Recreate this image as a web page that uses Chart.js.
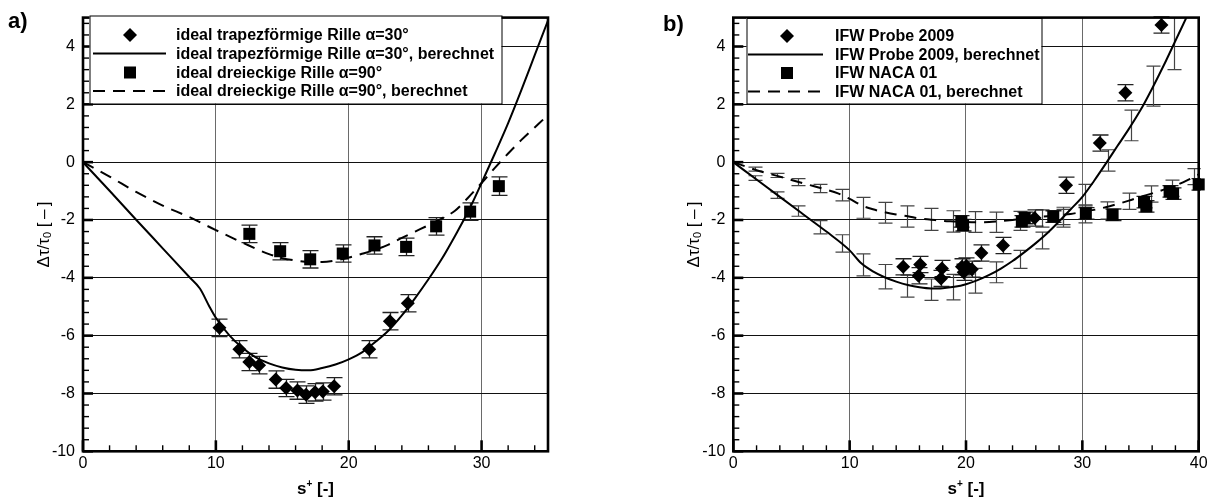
<!DOCTYPE html>
<html><head><meta charset="utf-8">
<script src="https://cdn.jsdelivr.net/npm/chart.js@4.4.1/dist/chart.umd.min.js"></script>
<style>
html,body{margin:0;padding:0;background:#fff;}
#wrap{position:relative;width:1217px;height:497px;overflow:hidden;background:#fff;}
canvas{position:absolute;top:0;}
</style></head>
<body><div id="wrap">
<canvas id="ca" width="608" height="497" style="left:0"></canvas>
<canvas id="cb" width="609" height="497" style="left:608px"></canvas>
</div>
<script>
// ---------- Panel a) data ----------
const aTrapX = [10.27, 11.77, 12.52, 13.25, 14.51, 15.29, 16.14, 16.79, 17.47, 18.05, 18.9, 21.54, 23.1, 24.45];
const aTrapY = [-5.73, -6.47, -6.91, -7.02, -7.52, -7.81, -7.9, -8.04, -7.96, -7.93, -7.75, -6.47, -5.5, -4.88];
const aTrapErr = [0.3, 0.3, 0.3, 0.3, 0.3, 0.3, 0.3, 0.3, 0.3, 0.3, 0.3, 0.3, 0.3, 0.3];
const aTriX = [12.52, 14.84, 17.1, 19.55, 21.94, 24.32, 26.58, 29.14, 31.3];
const aTriY = [-2.48, -3.08, -3.36, -3.16, -2.88, -2.93, -2.22, -1.71, -0.83];
const aTriErr = [0.3, 0.3, 0.3, 0.3, 0.3, 0.3, 0.3, 0.3, 0.32];
const aTrapCalcX = [0, 2, 4, 6, 8, 8.8, 9.5, 10, 11, 12, 13, 14, 15, 16, 17, 18, 19, 20, 21, 22, 23, 24, 25, 26, 27, 28, 29, 30, 31, 32, 33, 34, 35];
const aTrapCalcY = [0, -0.99, -1.99, -2.98, -3.97, -4.37, -4.98, -5.38, -5.98, -6.42, -6.75, -6.96, -7.1, -7.18, -7.2, -7.12, -7.0, -6.82, -6.58, -6.22, -5.82, -5.3, -4.7, -4.05, -3.35, -2.55, -1.7, -0.72, 0.3, 1.35, 2.5, 3.7, 4.9];
const aTriCalcX = [0, 2, 4, 6, 8, 10, 12, 14, 15, 16, 17, 18, 19, 20, 21, 22, 23, 24, 25, 26, 27, 28, 29, 30, 31, 32, 33, 34, 35];
const aTriCalcY = [0, -0.5, -1.03, -1.5, -1.9, -2.35, -2.78, -3.18, -3.32, -3.4, -3.45, -3.45, -3.4, -3.3, -3.17, -3.03, -2.85, -2.62, -2.4, -2.18, -1.95, -1.68, -1.22, -0.72, -0.2, 0.3, 0.77, 1.2, 1.63];
const aXTicks = [0, 10, 20, 30];
const aLegend = ['ideal trapezförmige Rille α=30°', 'ideal trapezförmige Rille α=30°, berechnet', 'ideal dreieckige Rille α=90°', 'ideal dreieckige Rille α=90°, berechnet'];

// ---------- Panel b) data ----------
const bProbeX = [14.6, 15.92, 16.06, 17.85, 17.93, 19.65, 19.8, 20.03, 20.5, 21.32, 23.18, 25.9, 28.6, 31.5, 33.7, 36.8];
const bProbeY = [-3.62, -3.93, -3.54, -4.02, -3.68, -3.62, -3.81, -3.59, -3.7, -3.14, -2.88, -1.93, -0.8, 0.66, 2.4, 4.74];
const bProbeErr = [0.28, 0.28, 0.28, 0.28, 0.28, 0.28, 0.28, 0.28, 0.28, 0.28, 0.28, 0.28, 0.28, 0.28, 0.28, 0.28];
const bNacaX = [19.6, 19.75, 24.8, 25.05, 27.5, 30.3, 32.6, 35.3, 35.5, 37.5, 37.8, 40.0];
const bNacaY = [-2.05, -2.18, -2.05, -1.93, -1.88, -1.77, -1.82, -1.38, -1.53, -1.01, -1.09, -0.77];
const bNacaErr = [0.2, 0.2, 0.2, 0.2, 0.2, 0.2, 0.2, 0.2, 0.2, 0.2, 0.2, 0.2];
const bProbeCalcX = [0, 2, 4, 6, 8, 10, 11, 12, 13, 14, 15, 16, 17, 18, 19, 20, 21, 22, 23, 24, 25, 26, 27, 28, 29, 30, 31, 32, 33, 34, 35, 36, 37, 38, 39];
const bProbeCalcY = [0, -0.6, -1.2, -1.8, -2.4, -3.05, -3.5, -3.78, -3.98, -4.13, -4.25, -4.33, -4.37, -4.36, -4.31, -4.22, -4.08, -3.9, -3.68, -3.42, -3.12, -2.8, -2.45, -2.05, -1.63, -1.2, -0.65, -0.06, 0.55, 1.15, 1.8, 2.55, 3.35, 4.2, 5.05];
const bProbeBarX = [1.87, 3.73, 5.6, 7.46, 9.33, 11.19, 13.05, 14.97, 16.99, 18.85, 20.8, 22.6, 24.6, 26.5, 28.3, 30.26, 32.2, 34.2, 36.1, 37.9];
const bProbeBarY = [-0.55, -1.14, -1.69, -2.25, -2.81, -3.55, -3.96, -4.29, -4.41, -4.32, -4.1, -3.81, -3.36, -2.71, -1.94, -1.14, 0.06, 1.27, 2.63, 4.1];
const bProbeBarErr = [0.08, 0.11, 0.18, 0.23, 0.3, 0.38, 0.42, 0.38, 0.37, 0.44, 0.43, 0.36, 0.31, 0.29, 0.31, 0.37, 0.37, 0.53, 0.69, 0.9];
const bNacaCalcX = [0, 1, 2, 4, 6, 8, 9, 10, 11, 12, 13, 14, 15, 16, 17, 18, 19, 20, 21, 22, 23, 24, 25, 26, 27, 28, 29, 30, 31, 32, 33, 34, 35, 36, 37, 38, 39, 40];
const bNacaCalcY = [0, -0.14, -0.28, -0.5, -0.73, -0.95, -1.08, -1.27, -1.49, -1.63, -1.73, -1.81, -1.87, -1.95, -1.99, -2.03, -2.05, -2.07, -2.08, -2.07, -2.04, -2.0, -1.95, -1.91, -1.87, -1.83, -1.79, -1.72, -1.65, -1.56, -1.45, -1.33, -1.2, -1.08, -0.95, -0.81, -0.63, -0.42];
const bNacaBarX = [1.87, 3.73, 5.6, 7.46, 9.33, 11.19, 13.05, 14.97, 16.99, 18.85, 20.8, 22.6, 24.67, 26.5, 28.3, 30.26, 32.1, 34.0, 35.9, 37.7, 39.6];
const bNacaBarY = [-0.24, -0.46, -0.69, -0.91, -1.14, -1.58, -1.75, -1.88, -1.98, -2.05, -2.07, -2.08, -2.03, -1.95, -1.86, -1.79, -1.67, -1.35, -1.1, -0.9, -0.5];
const bNacaBarErr = [0.07, 0.07, 0.12, 0.14, 0.2, 0.36, 0.36, 0.37, 0.38, 0.37, 0.36, 0.35, 0.33, 0.3, 0.3, 0.31, 0.3, 0.28, 0.28, 0.28, 0.28];
const bXTicks = [0, 10, 20, 30, 40];
const bLegend = ['IFW Probe 2009', 'IFW Probe 2009, berechnet', 'IFW NACA 01', 'IFW NACA 01, berechnet'];

const yTicks = [-10, -8, -6, -4, -2, 0, 2, 4];

// ---------- helpers ----------
const FONT = '"Liberation Sans", Arial, Helvetica, sans-serif';
Chart.defaults.font.family = FONT;
const pts = (xs, ys) => xs.map((x, i) => ({x: x, y: ys[i]}));

const errorBarPlugin = {
  id: 'errbars',
  beforeDatasetsDraw(chart) {
    const ctx = chart.ctx, xs = chart.scales.x, ys = chart.scales.y, a = chart.chartArea;
    ctx.save();
    ctx.beginPath(); ctx.rect(a.left, a.top - 2, a.right - a.left + 2, a.bottom - a.top + 2); ctx.clip();
    chart.data.datasets.forEach(ds => {
      if (!ds.errors) return;
      ctx.strokeStyle = ds.errColor; ctx.lineWidth = ds.errWidth;
      ds.data.forEach((p, i) => {
        const e = ds.errors[i];
        const px = Math.round(xs.getPixelForValue(p.x)) + 0.5;
        const y1 = ys.getPixelForValue(p.y + e), y2 = ys.getPixelForValue(p.y - e);
        const hw = ds.capHalf;
        ctx.beginPath();
        ctx.moveTo(px, y1); ctx.lineTo(px, y2);
        ctx.moveTo(px - hw, y1); ctx.lineTo(px + hw, y1);
        ctx.moveTo(px - hw, y2); ctx.lineTo(px + hw, y2);
        ctx.stroke();
      });
    });
    ctx.restore();
  }
};

function drawDiamond(ctx, x, y, r) {
  ctx.beginPath(); ctx.moveTo(x - r, y); ctx.lineTo(x, y - r); ctx.lineTo(x + r, y); ctx.lineTo(x, y + r); ctx.closePath(); ctx.fill();
}

function framePlugin(P) {
  return {
    id: 'frame' + P.tag,
    afterDatasetsDraw(chart) {
      const ctx = chart.ctx, a = chart.chartArea, xs = chart.scales.x, ys = chart.scales.y;
      ctx.save();
      ctx.strokeStyle = '#000';
      for (let v = 0; v <= P.xmax + 1e-6; v += 2) {
        const px = xs.getPixelForValue(v);
        const major = Math.abs(v % 10) < 1e-6;
        ctx.lineWidth = major ? 2.6 : 1.4;
        ctx.beginPath(); ctx.moveTo(px, a.bottom); ctx.lineTo(px, a.bottom - (major ? 11 : 6)); ctx.stroke();
      }
      for (let k = 0; k <= 37; k++) {
        const v = -10 + 0.4 * k;
        const py = ys.getPixelForValue(v);
        const major = Math.abs(Math.round(v * 10) % 20) === 0;
        ctx.lineWidth = major ? 2.6 : 1.4;
        ctx.beginPath(); ctx.moveTo(a.left, py); ctx.lineTo(a.left + (major ? 10 : 6), py); ctx.stroke();
      }
      ctx.lineWidth = 2.6;
      ctx.strokeRect(a.left, a.top, a.right - a.left, a.bottom - a.top);
      // legend
      const L = P.legend;
      ctx.fillStyle = '#fff'; ctx.fillRect(L.x0, L.y0, L.x1 - L.x0, L.y1 - L.y0);
      ctx.lineWidth = 1; ctx.strokeStyle = '#000';
      ctx.strokeRect(L.x0 + 0.5, L.y0 + 0.5, L.x1 - L.x0, L.y1 - L.y0);
      ctx.font = 'bold 16px ' + FONT; ctx.textBaseline = 'middle'; ctx.textAlign = 'left';
      P.legendText.forEach((t, i) => {
        const y = L.rows[i];
        const kind = ['diamond', 'line', 'square', 'dash'][i];
        ctx.fillStyle = '#000'; ctx.strokeStyle = '#000';
        if (kind === 'diamond') drawDiamond(ctx, L.sym, y, 7);
        else if (kind === 'square') ctx.fillRect(L.sym - 6, y - 6, 12, 12);
        else {
          ctx.lineWidth = 2; ctx.setLineDash(kind === 'dash' ? [12, 8] : []);
          ctx.beginPath(); ctx.moveTo(L.lx0, y); ctx.lineTo(L.lx1, y); ctx.stroke(); ctx.setLineDash([]);
        }
        ctx.fillText(t, L.tx, y + 1);
      });
      ctx.restore();
    },
    afterDraw(chart) {
      const ctx = chart.ctx, a = chart.chartArea;
      ctx.save(); ctx.fillStyle = '#000';
      ctx.font = 'bold 22px ' + FONT; ctx.textBaseline = 'alphabetic'; ctx.textAlign = 'left';
      ctx.fillText(P.letter, P.letterX, P.letterY);
      // x title: s+ [-]
      const cx = (a.left + a.right) / 2, by = 494;
      const parts = [['s', 'bold 17px ' + FONT, 0], ['+', 'bold 10px ' + FONT, -7], [' [-]', 'bold 17px ' + FONT, 0]];
      let tot = 0; parts.forEach(p => { ctx.font = p[1]; p.w = ctx.measureText(p[0]).width; tot += p.w; });
      let x = cx - tot / 2;
      parts.forEach(p => { ctx.font = p[1]; ctx.fillText(p[0], x, by + p[2]); x += p.w; });
      // y title: Δτ/τ0 [–]
      ctx.translate(P.yTitleX, (a.top + a.bottom) / 2); ctx.rotate(-Math.PI / 2);
      const yp = [['Δτ/τ', '17px ' + FONT, 0], ['0', '11px ' + FONT, 4], [' [\u2009–\u2009]', '17px ' + FONT, 0]];
      tot = 0; yp.forEach(p => { ctx.font = p[1]; p.w = ctx.measureText(p[0]).width; tot += p.w; });
      x = -tot / 2; ctx.textBaseline = 'middle';
      yp.forEach(p => { ctx.font = p[1]; ctx.fillText(p[0], x, p[2]); x += p.w; });
      ctx.restore();
    }
  };
}

function makeChart(id, P, datasets) {
  return new Chart(document.getElementById(id), {
    type: 'scatter',
    data: {datasets: datasets},
    options: {
      responsive: false, animation: false, events: [],
      layout: {padding: {left: 0, right: P.padRight, top: 13.3, bottom: 0}},
      plugins: {legend: {display: false}, tooltip: {enabled: false}},
      scales: {
        x: {
          type: 'linear', min: 0, max: P.xmax,
          afterBuildTicks: s => { s.ticks = P.xTicks.map(v => ({value: v})); },
          afterFit: s => { s.height = 45.7; },
          border: {display: false},
          grid: {color: '#6a6a6a', lineWidth: 1, drawTicks: false},
          ticks: {color: '#000', font: {size: 16}, padding: 3, maxRotation: 0}
        },
        y: {
          type: 'linear', min: -10, max: 5,
          afterBuildTicks: s => { s.ticks = yTicks.map(v => ({value: v})); },
          afterFit: s => { s.width = P.yWidth; },
          border: {display: false},
          grid: {color: '#111', lineWidth: 1, drawTicks: false},
          ticks: {color: '#000', font: {size: 16}, padding: 8}
        }
      }
    },
    plugins: [errorBarPlugin, framePlugin(P)]
  });
}

const lineDs = (xs, ys, dash) => ({data: pts(xs, ys), showLine: true, pointRadius: 0, borderColor: '#000', borderWidth: 2, borderDash: dash, cubicInterpolationMode: 'monotone', clip: 0});
const markDs = (xs, ys, errs, style, r) => ({data: pts(xs, ys), pointStyle: style, pointRadius: r, backgroundColor: '#000', borderColor: '#000', borderWidth: 0, errors: errs, errColor: '#222', errWidth: 1.3, capHalf: 8, clip: false});
const barDs = (xs, ys, errs) => ({data: pts(xs, ys), pointRadius: 0, showLine: false, errors: errs, errColor: '#444', errWidth: 1.2, capHalf: 7});

makeChart('ca', {
  tag: 'a', xmax: 35, xTicks: aXTicks, padRight: 60, yWidth: 83, letter: 'a)', letterX: 8, letterY: 28, yTitleX: 44,
  legendText: aLegend,
  legend: {x0: 89.5, x1: 501.5, y0: 15.5, y1: 103.5, rows: [35, 53.5, 72.5, 91], sym: 130, lx0: 93, lx1: 166, tx: 176}
}, [
  lineDs(aTrapCalcX, aTrapCalcY, []),
  lineDs(aTriCalcX, aTriCalcY, [12, 8]),
  markDs(aTriX, aTriY, aTriErr, 'rect', 8.5),
  markDs(aTrapX, aTrapY, aTrapErr, 'rectRot', 7)
]);

makeChart('cb', {
  tag: 'b', xmax: 40, xTicks: bXTicks, padRight: 18.3, yWidth: 125.3, letter: 'b)', letterX: 55, letterY: 31, yTitleX: 86,
  legendText: bLegend,
  legend: {x0: 138.5, x1: 433.5, y0: 18, y1: 103.5, rows: [36, 54.5, 73, 91.5], sym: 179, lx0: 140, lx1: 215, tx: 227}
}, [
  barDs(bProbeBarX, bProbeBarY, bProbeBarErr),
  barDs(bNacaBarX, bNacaBarY, bNacaBarErr),
  lineDs(bProbeCalcX, bProbeCalcY, []),
  lineDs(bNacaCalcX, bNacaCalcY, [12, 8]),
  markDs(bNacaX, bNacaY, bNacaErr, 'rect', 8.5),
  markDs(bProbeX, bProbeY, bProbeErr, 'rectRot', 7)
]);
</script>
</body></html>
